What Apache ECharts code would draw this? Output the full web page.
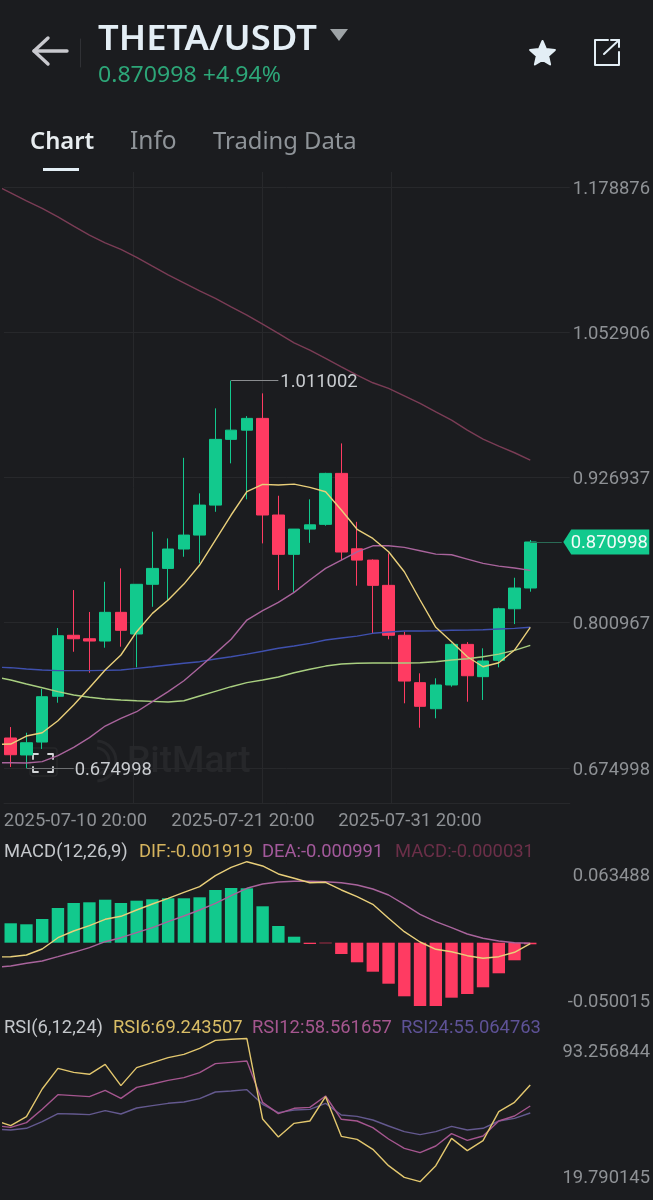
<!DOCTYPE html>
<html>

<head>
    <meta charset="utf-8">
    <title>THETA/USDT</title>
    <script src="https://cdn.jsdelivr.net/npm/echarts@6/dist/echarts.min.js"></script>
    <style>
        html, body { margin: 0; padding: 0; background: #1b1c1f; }
        #main { width: 653px; height: 1200px; }
    </style>
</head>

<body>
<div id="main"></div>
<script type="text/javascript">
// candle periods, the first one is off screen to the left (only the lines reach into it)
// the last ones have no candle yet, they are the empty room on the right
var periods = ['07-05','07-06','07-07','07-08','07-09','07-10','07-11','07-12','07-13','07-14','07-15','07-16',
    '07-17','07-18','07-19','07-20','07-21','07-22','07-23','07-24','07-25','07-26','07-27','07-28','07-29','07-30',
    '07-31','08-01','08-02','08-03','08-04','08-05','08-06','08-07','08-08','08-09','08-10','08-11','08-12','08-13','08-14'];

// open, close, low, high
var candles = [
    [0.7010,0.6865,0.6759,0.7105],[0.6863,0.6969,0.674998,0.7056],[0.6975,0.7368,0.6915,0.7435],[0.7372,0.7897,0.7316,0.7964],
    [0.7901,0.7871,0.7758,0.8293],[0.7871,0.7851,0.7576,0.8103],[0.7851,0.8100,0.7793,0.8365],[0.8100,0.7944,0.7802,0.8481],
    [0.7912,0.8343,0.7623,0.8345],[0.8343,0.8481,0.8148,0.8799],[0.8481,0.8649,0.8207,0.8741],[0.8649,0.8770,0.8582,0.9440],
    [0.8770,0.9030,0.8525,0.9132],[0.9030,0.9600,0.8972,0.9869],[0.9600,0.9680,0.9392,1.011002],[0.9680,0.9782,0.9080,0.9802],
    [0.9782,0.8944,0.8698,0.9999],[0.8944,0.8603,0.8293,0.9111],[0.8603,0.8822,0.8273,0.8822],[0.8822,0.8859,0.8703,0.9080],
    [0.8863,0.9305,0.8851,0.9310],[0.9305,0.8623,0.8553,0.9565],[0.8651,0.8553,0.8331,0.8885],[0.8553,0.8334,0.7918,0.8559],
    [0.8334,0.7901,0.7866,0.8611],[0.7901,0.7504,0.7311,0.7932],[0.7490,0.7285,0.7099,0.7571],[0.7264,0.7470,0.7181,0.7528],
    [0.7470,0.7822,0.7455,0.7831],[0.7822,0.7550,0.7325,0.7842],[0.7542,0.7678,0.7340,0.7788],[0.7684,0.8131,0.7623,0.8140],
    [0.8131,0.8311,0.7998,0.8400],[0.8311,0.870998,0.8279,0.8727]
];

var maYellow = [0.6955,0.6958,0.7027,0.7056,0.7160,0.7296,0.7446,0.7600,0.7730,0.7932,0.8091,0.8207,0.8345,0.8510,0.8727,0.8944,0.9146,0.9210,0.9204,0.9212,0.9184,0.9146,0.8987,0.8820,0.8741,0.8625,0.8452,0.8207,0.7970,0.7845,0.7715,0.7628,0.7663,0.7773,0.7970];
var maPink = [0.6796,0.6796,0.6793,0.6805,0.6857,0.6929,0.7013,0.7114,0.7181,0.7238,0.7325,0.7412,0.7507,0.7623,0.7744,0.7866,0.8033,0.8114,0.8187,0.8273,0.8380,0.8481,0.8553,0.8625,0.8677,0.8677,0.8663,0.8634,0.8605,0.8599,0.8562,0.8525,0.8501,0.8484,0.8464];
var maBlue = [0.7625,0.7620,0.7608,0.7600,0.7594,0.7594,0.7594,0.7597,0.7600,0.7614,0.7628,0.7643,0.7658,0.7672,0.7695,0.7715,0.7738,0.7762,0.7788,0.7808,0.7831,0.7860,0.7877,0.7894,0.7918,0.7929,0.7938,0.7938,0.7940,0.7944,0.7946,0.7949,0.7955,0.7961,0.7970];
var maGreen = [0.7542,0.7513,0.7478,0.7446,0.7412,0.7383,0.7363,0.7348,0.7340,0.7333,0.7328,0.7322,0.7333,0.7374,0.7415,0.7455,0.7490,0.7513,0.7539,0.7576,0.7606,0.7634,0.7652,0.7658,0.7660,0.7660,0.7660,0.7663,0.7672,0.7686,0.7698,0.7715,0.7738,0.7770,0.7814];
var maDark = [1.1805,1.1738,1.1668,1.1603,1.1530,1.1449,1.1371,1.1304,1.1247,1.1178,1.1102,1.1027,1.0958,1.0888,1.0822,1.0749,1.0678,1.0599,1.0519,1.0437,1.0374,1.0302,1.0229,1.0157,1.0091,1.0042,0.9978,0.9912,0.9839,0.9767,0.9680,0.9602,0.9542,0.9484,0.9420];

var macdBars = [0.01748,0.01658,0.02135,0.03126,0.03577,0.0364,0.03874,0.03577,0.03784,0.0391,0.04,0.04,0.0409,0.04748,0.04928,0.04901,0.03279,0.01505,0.00541,-0.00117,-0.00054,-0.01018,-0.01766,-0.02613,-0.03694,-0.04829,-0.05703,-0.05703,-0.04955,-0.04622,-0.04018,-0.02757,-0.01586,-0.00144];
var dif = [-0.01288,-0.01261,-0.01108,-0.00568,0.0045,0.01054,0.01532,0.02108,0.02378,0.02946,0.03486,0.04,0.04541,0.05045,0.06036,0.06793,0.07297,0.0691,0.06189,0.05802,0.05405,0.05441,0.04748,0.04144,0.03459,0.02198,0.00991,0.00063,-0.00595,-0.00811,-0.01171,-0.01405,-0.01261,-0.00865,-0.0009];
var dea = [-0.02216,-0.02099,-0.01856,-0.01649,-0.01261,-0.00865,-0.0045,0.0009,0.0045,0.00901,0.01351,0.01892,0.02405,0.02946,0.0355,0.04234,0.04901,0.05288,0.05468,0.05532,0.05532,0.05495,0.05405,0.05198,0.04838,0.04297,0.03459,0.02559,0.01892,0.01351,0.00784,0.00396,0.00153,0,-0.00054];

var rsi6 = [52.15,49.04,54.30,70.46,82.54,80.20,79.04,84.88,72.41,82.93,85.85,88.78,90.72,94.23,98.90,99.50,99.95,52.93,42.41,50.40,51.76,65.98,42.80,41.05,35.21,25.66,18.84,16.31,25.66,41.63,34.43,40.27,57.22,62.67,72.80];
var rsi12 = [49.04,48.06,50.79,58.58,67.15,66.57,65.98,69.69,65.01,71.44,73.39,75.53,77.09,80.01,85.27,86.05,86.83,62.67,56.05,59.17,59.75,66.37,52.74,51.76,47.87,41.24,35.79,33.26,37.15,44.36,40.47,43.00,51.76,54.69,60.53];
var rsi24 = [47.09,46.50,47.48,51.37,56.05,55.85,55.46,57.80,55.85,59.36,60.72,62.09,62.87,64.82,68.71,69.30,70.07,61.50,56.63,58.19,58.58,62.09,55.27,54.49,52.35,48.84,45.53,43.78,45.53,48.65,46.50,47.48,51.76,53.32,56.44];

var priceTicks = [0.674998,0.800967,0.926937,1.052906,1.178876];
var macdTicks = [-0.050015,0.063488];
var rsiTicks = [19.790145,93.256844];
var dateLabels = ['2025-07-10 20:00','2025-07-21 20:00','2025-07-31 20:00'];
var dateLabelAt = [71.5,239,406];   // on the overlay x axis, which counts px from its left edge
var vLineAt = [129,258,387];

var highPrice = 1.011002, lowPrice = 0.674998, lastPrice = 0.870998;

var UP = '#12c98d', DOWN = '#ff3b62', BG = '#1b1c1f';
var AXIS_TXT = '#8e9195', GRID = '#27282b';
var FONT = 'Roboto';
var HEAD = '"Noto Sans"';
var AXIS_SIZE = 18.4;

// all candle panes share this category axis set up
function catAxis(idx) {
    return {
        type: 'category', gridIndex: idx, data: periods, min: 1, max: 40,
        axisLine: {show: false}, axisTick: {show: false}, axisLabel: {show: false}, splitLine: {show: false}
    };
}
function lineSeries(name, data, color, x, y, width) {
    return {
        name: name, type: 'line', data: data, xAxisIndex: x, yAxisIndex: y,
        showSymbol: false, symbol: 'none', smooth: false, z: 4,
        lineStyle: {color: color, width: width || 1.4}
    };
}
function txt(x, y, text, fill, size, weight, family, stretch) {
    return {
        type: 'text', silent: true, x: x, y: y, scaleX: stretch || 1,
        style: {x: 0, y: 0, text: text, fill: fill, verticalAlign: 'middle',
            font: (weight || 400) + ' ' + size + 'px ' + (family || FONT)}
    };
}
function stroke(points, color, width) {
    return {
        type: 'polyline', silent: true, shape: {points: points},
        style: {stroke: color, lineWidth: width, fill: null, lineCap: 'round', lineJoin: 'round'}
    };
}

var gfx = [
    // head
    stroke([[48,38],[34,51],[48,64]], '#c9c9ce', 3.4),
    stroke([[34,51],[67,51]], '#c9c9ce', 3.4),
    stroke([[80.5,39],[80.5,67]], '#303135', 1),
    txt(98, 40, 'THETA/USDT', '#e4eef5', 33.5, 600, HEAD, 1.085),
    {type: 'polygon', silent: true, shape: {points: [[330,29],[348,29],[339,41]]}, style: {fill: '#9ea3a6'}},
    txt(98, 76, '0.870998 +4.94%', '#2da678', 22, 400, HEAD, 1.05),
    {type: 'polygon', silent: true,
        shape: {points: [[542.5,41],[546,49.1],[554.9,50],[548.2,55.9],[550.1,64.5],[542.5,60],[534.9,64.5],[536.8,55.9],[530.1,50],[539,49.1]]},
        style: {fill: '#e3eef5', stroke: '#e3eef5', lineWidth: 2, lineJoin: 'round'}},
    stroke([[608,40],[595,40],[595,65],[619,65],[619,52]], '#e3eef5', 2),
    stroke([[604,54],[619,40]], '#e3eef5', 2),
    stroke([[611,40],[619,40],[619,47]], '#e3eef5', 2),
    // tabs
    txt(30, 142, 'Chart', '#e8edf0', 23.8, 600, HEAD),
    txt(130, 142, 'Info', '#8f9499', 24.5, 400, HEAD),
    txt(213, 142, 'Trading Data', '#8f9499', 23.8, 400, HEAD),
    {type: 'rect', silent: true, shape: {x: 43, y: 168, width: 36, height: 3}, style: {fill: '#e3eef5'}},
    // watermark
    txt(127, 763, 'RitMart', 'rgba(255,255,255,0.05)', 37, 500),
    {type: 'arc', silent: true, shape: {cx: 96, cy: 761, r: 20, startAngle: -1.5, endAngle: 1.5}, style: {stroke: 'rgba(255,255,255,0.05)', lineWidth: 3, fill: null}},
    {type: 'arc', silent: true, shape: {cx: 96, cy: 761, r: 13, startAngle: -1.5, endAngle: 1.5}, style: {stroke: 'rgba(255,255,255,0.05)', lineWidth: 3, fill: null}},
    {type: 'rect', silent: true, shape: {x: 30, y: 748, width: 27, height: 28, r: 3}, style: {stroke: 'rgba(255,255,255,0.05)', lineWidth: 1.5, fill: null}},
    // focus icon
    stroke([[33,759],[33,754],[38,754]], '#d5d7da', 1.8),
    stroke([[48,754],[53,754],[53,759]], '#d5d7da', 1.8),
    stroke([[33,767],[33,772],[38,772]], '#d5d7da', 1.8),
    stroke([[48,772],[53,772],[53,767]], '#d5d7da', 1.8),
    // legends
    txt(4, 852.5, 'MACD(12,26,9)', '#c4c7cb', AXIS_SIZE),
    txt(139, 852.5, 'DIF:-0.001919', '#d6b45e', AXIS_SIZE),
    txt(262, 852.5, 'DEA:-0.000991', '#a3599b', AXIS_SIZE),
    txt(395, 852.5, 'MACD:-0.000031', '#6b2f48', AXIS_SIZE),
    txt(4, 1028.5, 'RSI(6,12,24)', '#c4c7cb', AXIS_SIZE),
    txt(113, 1028.5, 'RSI6:69.243507', '#d9bd66', AXIS_SIZE),
    txt(252, 1028.5, 'RSI12:58.561657', '#a5568f', AXIS_SIZE),
    txt(401, 1028.5, 'RSI24:55.064763', '#5e5296', AXIS_SIZE)
];

var myChart = echarts.init(document.getElementById('main'));

var option = {
    animation: false,
    backgroundColor: BG,
    textStyle: {fontFamily: FONT},
    graphic: {elements: gfx},
    grid: [
        {left: 4, width: 566, top: 172, height: 631},        // gridlines, price and date labels
        {left: 2.83, width: 629.8, top: 172, height: 631},   // candles
        {left: 2.83, width: 629.8, top: 840, height: 175},   // macd
        {left: 2.83, width: 629.8, top: 1035, height: 155}   // rsi
    ],
    xAxis: [
        {
            type: 'value', gridIndex: 0, min: 0, max: 566,
            axisLine: {show: true, lineStyle: {color: GRID}},
            axisTick: {show: false, customValues: vLineAt},
            splitLine: {show: true, showMinLine: true, showMaxLine: true, lineStyle: {color: GRID}},
            axisLabel: {
                customValues: dateLabelAt, color: AXIS_TXT, fontSize: AXIS_SIZE, margin: 9, hideOverlap: false,
                showMinLabel: true, showMaxLabel: true,
                formatter: function (v) { return dateLabels[dateLabelAt.indexOf(v)]; }
            }
        },
        catAxis(1), catAxis(2), catAxis(3)
    ],
    yAxis: [
        {
            type: 'value', gridIndex: 0, position: 'right', min: 0.64464, max: 1.19188,
            axisLine: {show: false},
            axisTick: {show: false, customValues: priceTicks},
            splitLine: {show: true, showMinLine: true, showMaxLine: true, lineStyle: {color: GRID}},
            axisLabel: {
                customValues: priceTicks, color: AXIS_TXT, fontSize: AXIS_SIZE, margin: 3,
                verticalAlign: 'top', lineHeight: 4,
                formatter: function (v) { return v.toFixed(6); }
            }
        },
        {type: 'value', gridIndex: 1, min: 0.64464, max: 1.19188, show: false},
        {
            type: 'value', gridIndex: 2, position: 'right', min: -0.06514, max: 0.09252,
            axisLine: {show: false}, axisTick: {show: false}, splitLine: {show: false},
            axisLabel: {
                customValues: macdTicks, color: AXIS_TXT, fontSize: AXIS_SIZE, align: 'right', margin: 17.4,
                verticalAlign: 'top', lineHeight: 7.6,
                formatter: function (v) { return v.toFixed(6); }
            }
        },
        {
            type: 'value', gridIndex: 3, position: 'right', min: 11.43, max: 102.02,
            axisLine: {show: false}, axisTick: {show: false}, splitLine: {show: false},
            axisLabel: {
                customValues: rsiTicks, color: AXIS_TXT, fontSize: AXIS_SIZE, align: 'right', margin: 17.4,
                verticalAlign: 'top', lineHeight: 5,
                formatter: function (v) { return v.toFixed(6); }
            }
        }
    ],
    series: [
        {
            name: 'K', type: 'candlestick', xAxisIndex: 1, yAxisIndex: 1, barWidth: 12, z: 3,
            data: [['-','-','-','-']].concat(candles),
            itemStyle: {color: UP, color0: DOWN, borderColor: UP, borderColor0: DOWN, borderWidth: 1},
            markLine: {
                silent: true, symbol: 'none', animation: false,
                lineStyle: {type: 'solid'},
                data: [
                    [{coord: [15, highPrice], lineStyle: {type: 'solid', color: '#8a8c8f', width: 1}, label: {show: true, position: 'end', formatter: highPrice.toFixed(6), color: '#c9ccd0', fontSize: AXIS_SIZE, distance: 2, offset: [0, 2]}}, {coord: [18, highPrice]}],
                    [{coord: [2, lowPrice], lineStyle: {type: 'solid', color: '#6d6f72', width: 1}, label: {show: true, position: 'end', formatter: lowPrice.toFixed(6), color: '#c9ccd0', fontSize: AXIS_SIZE, distance: 1, offset: [0, 2]}}, {coord: [5, lowPrice]}],
                    [{coord: [34, lastPrice], lineStyle: {type: 'solid', color: '#2a6a55', width: 1}, label: {show: false}}, {coord: [36, lastPrice]}]
                ]
            },
            markPoint: {
                silent: true, animation: false,
                data: [{
                    coord: [36, lastPrice],
                    symbol: 'path://M0 12.5 L8 0 L86 0 L86 25 L8 25 Z',
                    symbolSize: [86, 25], symbolOffset: [44.5, 0],
                    itemStyle: {color: UP},
                    label: {show: true, formatter: lastPrice.toFixed(6), color: '#f1fbf7', fontSize: AXIS_SIZE, position: 'inside', offset: [3, 1]}
                }]
            }
        },
        lineSeries('MA1', maDark, '#7a3c55', 1, 1),
        lineSeries('MA2', maGreen, '#a9cf80', 1, 1),
        lineSeries('MA3', maBlue, '#3f50ae', 1, 1),
        lineSeries('MA4', maPink, '#a9649c', 1, 1),
        lineSeries('MA5', maYellow, '#e9cf7a', 1, 1),
        {
            name: 'MACD', type: 'bar', xAxisIndex: 2, yAxisIndex: 2, barWidth: 12.4,
            data: ['-'].concat(macdBars),
            itemStyle: {color: function (p) { return p.value >= 0 ? UP : DOWN; }}
        },
        lineSeries('DEA', dea, '#a9649c', 2, 2),
        lineSeries('DIF', dif, '#e9cf7a', 2, 2),
        lineSeries('RSI24', rsi24, '#64598f', 3, 3),
        lineSeries('RSI12', rsi12, '#a5568f', 3, 3),
        lineSeries('RSI6', rsi6, '#e3c76e', 3, 3)
    ]
};

myChart.setOption(option);
</script>
</body>

</html>
